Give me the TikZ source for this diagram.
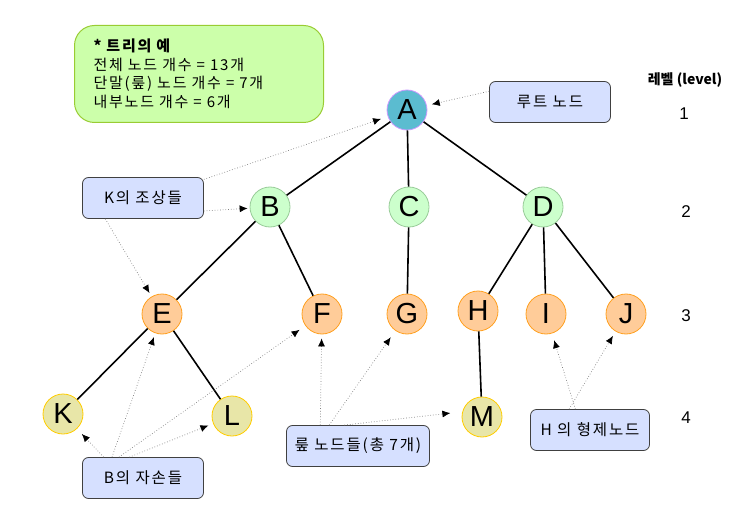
\documentclass[tikz,border=0pt]{standalone}
\usepackage{fontspec}
\setmainfont[LetterSpace=12]{Noto Sans CJK KR}
\newfontfamily\krplain{Noto Sans CJK KR}
\newfontfamily\latinfont{Liberation Sans}
\usetikzlibrary{arrows.meta}
\definecolor{rootfill}{RGB}{91,188,208}
\definecolor{rootline}{RGB}{204,153,255}
\definecolor{midfill}{RGB}{204,255,204}
\definecolor{midline}{RGB}{153,204,153}
\definecolor{lowfill}{RGB}{255,204,153}
\definecolor{lowline}{RGB}{255,160,32}
\definecolor{deepfill}{RGB}{232,230,168}
\definecolor{deepline}{RGB}{255,204,0}
\definecolor{boxfill}{RGB}{214,224,255}
\definecolor{boxline}{RGB}{64,64,64}
\definecolor{exfill}{RGB}{204,255,170}
\definecolor{exline}{RGB}{153,204,51}

\begin{document}
\begin{tikzpicture}[x=1pt, y=-1pt,
    main/.style = {draw, circle, minimum size=40pt, inner sep=0pt, line width=0.8pt, font=\latinfont\fontsize{29}{29}\selectfont},
    top/.style = {main, fill=rootfill, draw=rootline},
    mid/.style = {main, fill=midfill, draw=midline},
    low/.style = {main, fill=lowfill, draw=lowline},
    deep/.style = {main, fill=deepfill, draw=deepline},
    box/.style = {draw=boxline, fill=boxfill, rounded corners=6pt, minimum width=121pt, minimum height=41pt, line width=0.8pt, font=\fontsize{15.5}{18}\selectfont},
    ex/.style = {draw=exline, fill=exfill, rounded corners=20pt, line width=1pt, text width=211pt, inner xsep=19pt, minimum height=97pt, align=left, font=\fontsize{15}{18.5}\selectfont},
    lvl/.style = {font=\latinfont\fontsize{17}{17}\selectfont},
    link/.style = {line width=1.6pt},
    hint/.style = {draw=gray, dotted, line width=0.7pt, -{Latex[length=8pt,width=7pt,color=black]}}]
                \useasboundingbox (0,0) rectangle (754,521);

                % Noeuds
                \node[top] (A) at (407,110) {A};
                \node[mid] (B) at (270,207) {B};
                \node[mid] (C) at (409,207) {C};
                \node[mid] (D) at (543,207) {D};
                \node[low] (E) at (162,314) {E};
                \node[low] (F) at (322,314) {F};
                \node[low] (G) at (407,314) {G};
                \node[low] (H) at (478,311) {H};
                \node[low] (I) at (546,314) {I};
                \node[low] (J) at (626,314) {J};
                \node[deep] (K) at (63,414) {K};
                \node[deep] (L) at (232,416) {L};
                \node[deep] (M) at (482,417) {M};

                % Boites
                \node[ex, anchor=north west] (ex) at (74,25) {\textbf{* 트리의 예}\\전체 노드 개수 = 13개\\단말(뤂) 노드 개수 = 7개\\내부노드 개수 = 6개};
                \node[box] (root) at (550,102) {루트 노드};
                \node[box] (anc) at (143,198) {K의 조상들};
                \node[box] (desc) at (143,478) {B의 자손들};
                \node[box, minimum width=143pt] (leaves) at (358,446) {뤂 노드들(총 7개)};
                \node[box, minimum width=119pt] (sib) at (590,430) {H 의 형제노드};

                % Niveaux
                \node[font=\krplain\bfseries\fontsize{14}{16}\selectfont] (lv) at (685,80) {레벨 (level)};
                \node[lvl] (l1) at (684,114) {1};
                \node[lvl] (l2) at (686,212) {2};
                \node[lvl] (l3) at (686,316) {3};
                \node[lvl] (l4) at (686,418) {4};

                % Arêtes
                \draw[link] (A) -- (B);
                \draw[link] (A) -- (C);
                \draw[link] (A) -- (D);
                \draw[link] (B) -- (E);
                \draw[link] (B) -- (F);
                \draw[link] (C) -- (G);
                \draw[link] (D) -- (H);
                \draw[link] (D) -- (I);
                \draw[link] (D) -- (J);
                \draw[link] (E) -- (K);
                \draw[link] (E) -- (L);
                \draw[link] (H) -- (M);

                % Flèches
                \draw[hint, shorten >=5pt] (root.170) -- (A);
                \draw[hint, shorten >=7pt] (anc.17) -- (A);
                \draw[hint, shorten >=2pt] (anc.-12) -- (B);
                \draw[hint, shorten >=4pt] (anc.209) -- (E);
                \draw[hint, shorten >=7pt] (desc.152) -- (K);
                \draw[hint, shorten >=4pt] (desc.146) -- (E);
                \draw[hint, shorten >=7pt] (desc.139) -- (F);
                \draw[hint, shorten >=5pt] (desc.123) -- (L);
                \draw[hint, shorten >=4pt] (leaves.151) -- (F);
                \draw[hint, shorten >=8pt] (leaves.144) -- (G);
                \draw[hint, shorten >=12pt] (leaves.123) -- (M.165);
                \draw[hint, shorten >=7pt] (sib.125) -- (I);
                \draw[hint, shorten >=5pt] (sib.135) -- (J);
                \end{tikzpicture}
\end{document}
